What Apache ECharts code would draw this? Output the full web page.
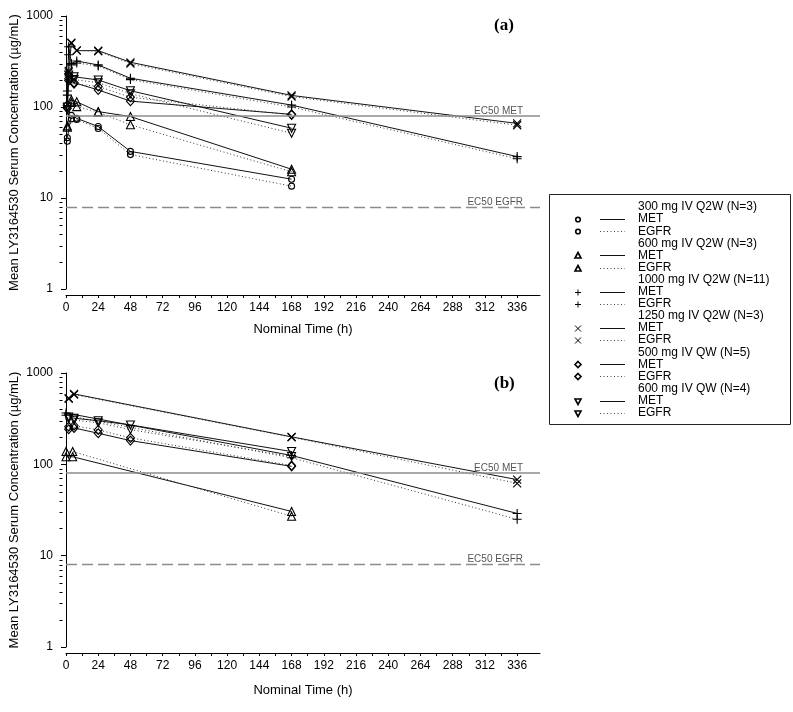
<!DOCTYPE html>
<html><head><meta charset="utf-8">
<script src="https://cdn.jsdelivr.net/npm/echarts@6/dist/echarts.min.js"></script>
<style>html,body{margin:0;padding:0;background:#fff}#c{width:793px;height:712px}</style>
</head><body><div id="c"></div>
<script>
// ---------- labels / ticks ----------
const groupNames = ['300 mg IV Q2W (N=3)', '600 mg IV Q2W (N=3)', '1000 mg IV Q2W (N=11)',
                    '1250 mg IV Q2W (N=3)', '500 mg IV QW (N=5)', '600 mg IV QW (N=4)'];
const analyteNames = ['MET', 'EGFR'];
const panelLabels = ['(a)', '(b)'];
const xTickLabels = [0, 24, 48, 72, 96, 120, 144, 168, 192, 216, 240, 264, 288, 312, 336];
const xTickMarks = [0,12,24,36,48,60,72,84,96,108,120,132,144,156,168,180,192,204,216,228,240,252,264,276,288,300,312,324,336];
const yMinorTicks = [2,3,4,5,6,7,8,9,20,30,40,50,60,70,80,90,200,300,400,500,600,700,800,900];
const ec50Met = 80;
const ec50Egfr = 8;

// ---------- Panel (a) ----------
const timeA300 = [1, 4, 8, 24, 48, 168];
const metA300  = [46, 81, 75, 61, 32.5, 16.1];
const egfrA300 = [42, 74, 73, 58, 30, 13.5];
const timeA600 = [1, 4, 8, 24, 48, 168];
const metA600  = [62, 120, 114, 89, 78.5, 20.7];
const egfrA600 = [60, 112, 101, 88, 63.7, 19.4];
const timeA1000 = [1, 2, 4, 8, 24, 48, 168, 336];
const metA1000  = [150, 460, 300, 320, 290, 207, 105, 28.5];
const egfrA1000 = [135, 375, 290, 305, 282, 200, 100, 27];
const timeA1250 = [2, 4, 8, 24, 48, 168, 336];
const metA1250  = [250, 510, 416, 416, 310, 134, 66];
const egfrA1250 = [240, 500, 420, 410, 300, 130, 63];
const timeA500qw = [1, 2, 6, 24, 48, 168];
const metA500qw  = [105, 205, 185, 154, 116, 83];
const egfrA500qw = [97, 195, 180, 168, 128, 82];
const timeA600qw = [1, 2, 6, 24, 48, 168];
const metA600qw  = [100, 225, 215, 198, 151, 58.5];
const egfrA600qw = [93, 210, 200, 185, 140, 51.5];

// ---------- Panel (b) ----------
const timeB300 = [];
const metB300  = [];
const egfrB300 = [];
const timeB600 = [0, 5, 168];
const metB600  = [121, 121, 30.5];
const egfrB600 = [138, 138, 27];
const timeB1000 = [0, 168, 336];
const metB1000  = [365, 125, 29];
const egfrB1000 = [345, 118, 25];
const timeB1250 = [2, 6, 168, 336];
const metB1250  = [520, 590, 200, 68];
const egfrB1250 = [530, 580, 198, 62];
const timeB500qw = [2, 6, 24, 48, 168];
const metB500qw  = [242, 250, 219, 182, 95];
const egfrB500qw = [258, 265, 238, 195, 97];
const timeB600qw = [2, 6, 24, 48, 168];
const metB600qw  = [330, 320, 300, 270, 138];
const egfrB600qw = [315, 305, 285, 240, 122];

const panels = [
  [[timeA300, metA300, egfrA300], [timeA600, metA600, egfrA600], [timeA1000, metA1000, egfrA1000],
   [timeA1250, metA1250, egfrA1250], [timeA500qw, metA500qw, egfrA500qw], [timeA600qw, metA600qw, egfrA600qw]],
  [[timeB300, metB300, egfrB300], [timeB600, metB600, egfrB600], [timeB1000, metB1000, egfrB1000],
   [timeB1250, metB1250, egfrB1250], [timeB500qw, metB500qw, egfrB500qw], [timeB600qw, metB600qw, egfrB600qw]]
];

// ---------- styling ----------
const FONT = '"Liberation Sans", Arial, sans-serif';
const symbols = [
  {symbol: 'circle', size: 6, rotate: 0},
  {symbol: 'triangle', size: 8, rotate: 0},
  {symbol: 'path://M5,0L5,10M0,5L10,5', size: 9, rotate: 0},
  {symbol: 'path://M0,0L10,10M10,0L0,10', size: 8, rotate: 0},
  {symbol: 'diamond', size: [8, 9], rotate: 0},
  {symbol: 'triangle', size: 8, rotate: 180}
];
const gridDefs = [
  {left: 66, top: 16, width: 474, height: 273, nameGap: 28},
  {left: 66, top: 373, width: 474, height: 274, nameGap: 31}
];

const grids = [], xAxes = [], yAxes = [], series = [];
gridDefs.forEach((g, pi) => {
  grids.push({left: g.left, top: g.top, width: g.width, height: g.height, containLabel: false, outerBoundsMode: 'none'});
  xAxes.push({
    type: 'value', gridIndex: pi, min: 0, max: 353, interval: 24, offset: 6,
    name: 'Nominal Time (h)', nameLocation: 'middle', nameGap: g.nameGap, nameMoveOverlap: false,
    nameTextStyle: {fontFamily: FONT, fontSize: 13, color: '#000'},
    axisLine: {show: true, lineStyle: {color: '#000', width: 1}},
    axisTick: {show: true, length: 3, customValues: xTickMarks, lineStyle: {color: '#000'}},
    axisLabel: {customValues: xTickLabels, fontFamily: FONT, fontSize: 12, color: '#000', margin: 7},
    splitLine: {show: false}
  });
  yAxes.push({
    type: 'log', logBase: 10, gridIndex: pi, min: 1, max: 1000, offset: 4,
    name: 'Mean LY3164530 Serum Concentration (\u00b5g/mL)', nameLocation: 'middle', nameGap: 41, nameMoveOverlap: false,
    nameTextStyle: {fontFamily: FONT, fontSize: 13, color: '#000'},
    axisLine: {show: true, lineStyle: {color: '#000', width: 1}},
    axisTick: {show: true, length: 5, lineStyle: {color: '#000'}},
    axisLabel: {fontFamily: FONT, fontSize: 12, color: '#000', margin: 9, formatter: v => String(Math.round(v))},
    splitLine: {show: false}
  });
  // minor log ticks on the y axis
  series.push({
    type: 'custom', xAxisIndex: pi, yAxisIndex: pi, clip: false, silent: true, z: 5,
    data: yMinorTicks.map(v => [0, v]),
    renderItem: (params, api) => {
      const p = api.coord([0, api.value(1)]);
      const x = Math.round(p[0]) - 4 + 0.5;
      const y = Math.round(p[1]) + 0.5;
      return {type: 'line', shape: {x1: x - 3, y1: y, x2: x, y2: y}, style: {stroke: '#000', lineWidth: 1}};
    }
  });
  panels[pi].forEach((set, gi) => {
    [1, 2].forEach(k => {
      const isMet = k === 1;
      const s = {
        type: 'line', name: groupNames[gi] + ' ' + analyteNames[k - 1],
        xAxisIndex: pi, yAxisIndex: pi,
        data: set[0].map((t, i) => [t, set[k][i]]),
        symbol: symbols[gi].symbol, symbolSize: symbols[gi].size, symbolRotate: symbols[gi].rotate,
        showAllSymbol: true, clip: false,
        itemStyle: {color: 'rgba(255,255,255,0)', borderColor: '#000', borderWidth: 1.1},
        lineStyle: isMet ? {color: '#111', width: 1, type: 'solid'} : {color: '#333', width: 1, type: [1, 2.5]},
        emphasis: {disabled: true}, z: 3
      };
      if (gi === 1 && isMet) {
        s.markLine = {
          silent: true, symbol: ['none', 'none'], animation: false,
          label: {position: 'insideEndTop', color: '#555', fontFamily: FONT, fontSize: 10, distance: 0, padding: [0, 17, 0, 0]},
          data: [
            {yAxis: ec50Met, label: {formatter: 'EC50 MET'}, lineStyle: {color: '#8c8c8c', width: 1.5, type: 'solid'}},
            {yAxis: ec50Egfr, label: {formatter: 'EC50 EGFR'}, lineStyle: {color: '#8c8c8c', width: 1.3, type: [11, 5]}}
          ]
        };
      }
      series.push(s);
    });
  });
});

// ---------- legend drawn as graphic ----------
const LX = 578, LL1 = 600, LL2 = 625, LT = 638, LY0 = 207, LDY = 12.1;
function marker(i, cx, cy) {
  const st = {fill: 'none', stroke: '#000', lineWidth: 1.6};
  switch (i) {
    case 0: return [{type: 'circle', shape: {cx, cy, r: 2.3}, style: st}];
    case 1: return [{type: 'polygon', shape: {points: [[cx, cy - 3], [cx + 3, cy + 2.5], [cx - 3, cy + 2.5]]}, style: st}];
    case 2: return [{type: 'line', shape: {x1: cx - 3, y1: cy, x2: cx + 3, y2: cy}, style: {stroke: '#000', lineWidth: 1}},
                    {type: 'line', shape: {x1: cx, y1: cy - 3, x2: cx, y2: cy + 3}, style: {stroke: '#000', lineWidth: 1}}];
    case 3: return [{type: 'line', shape: {x1: cx - 3, y1: cy - 3, x2: cx + 3, y2: cy + 3}, style: {stroke: '#000', lineWidth: 1}},
                    {type: 'line', shape: {x1: cx + 3, y1: cy - 3, x2: cx - 3, y2: cy + 3}, style: {stroke: '#000', lineWidth: 1}}];
    case 4: return [{type: 'polygon', shape: {points: [[cx, cy - 3], [cx + 3, cy], [cx, cy + 3], [cx - 3, cy]]}, style: st}];
    default: return [{type: 'polygon', shape: {points: [[cx - 3, cy - 2.5], [cx + 3, cy - 2.5], [cx, cy + 3]]}, style: st}];
  }
}
const graphics = [{type: 'rect', shape: {x: 549.5, y: 194.5, width: 241, height: 230}, style: {fill: 'none', stroke: '#222', lineWidth: 1}}];
let row = 0;
function addText(txt, y) {
  graphics.push({type: 'text', x: LT, y: y,
    style: {text: txt, font: '12px ' + FONT, fill: '#000', verticalAlign: 'middle', textVerticalAlign: 'middle', align: 'left'}});
}
groupNames.forEach((g, gi) => {
  addText(g, LY0 + row * LDY); row++;
  analyteNames.forEach((a, ai) => {
    const y = Math.round(LY0 + row * LDY) + 0.5;
    marker(gi, LX, y).forEach(e => graphics.push(e));
    graphics.push({type: 'line', shape: {x1: LL1, y1: y, x2: LL2, y2: y},
      style: {stroke: ai === 0 ? '#111' : '#444', lineWidth: 1, lineDash: ai === 0 ? null : [1, 2.5]}});
    addText(a, LY0 + row * LDY); row++;
  });
});

const chart = echarts.init(document.getElementById('c'), null, {renderer: 'canvas'});
chart.setOption({
  animation: false,
  backgroundColor: '#fff',
  title: panelLabels.map((t, i) => ({
    text: t, left: 494, top: i === 0 ? 17 : 375, padding: 0,
    textStyle: {fontFamily: '"Liberation Serif", "Times New Roman", serif', fontWeight: 'bold', fontSize: 17, color: '#000'}
  })),
  grid: grids,
  xAxis: xAxes,
  yAxis: yAxes,
  series: series,
  graphic: graphics
});
</script></body></html>
